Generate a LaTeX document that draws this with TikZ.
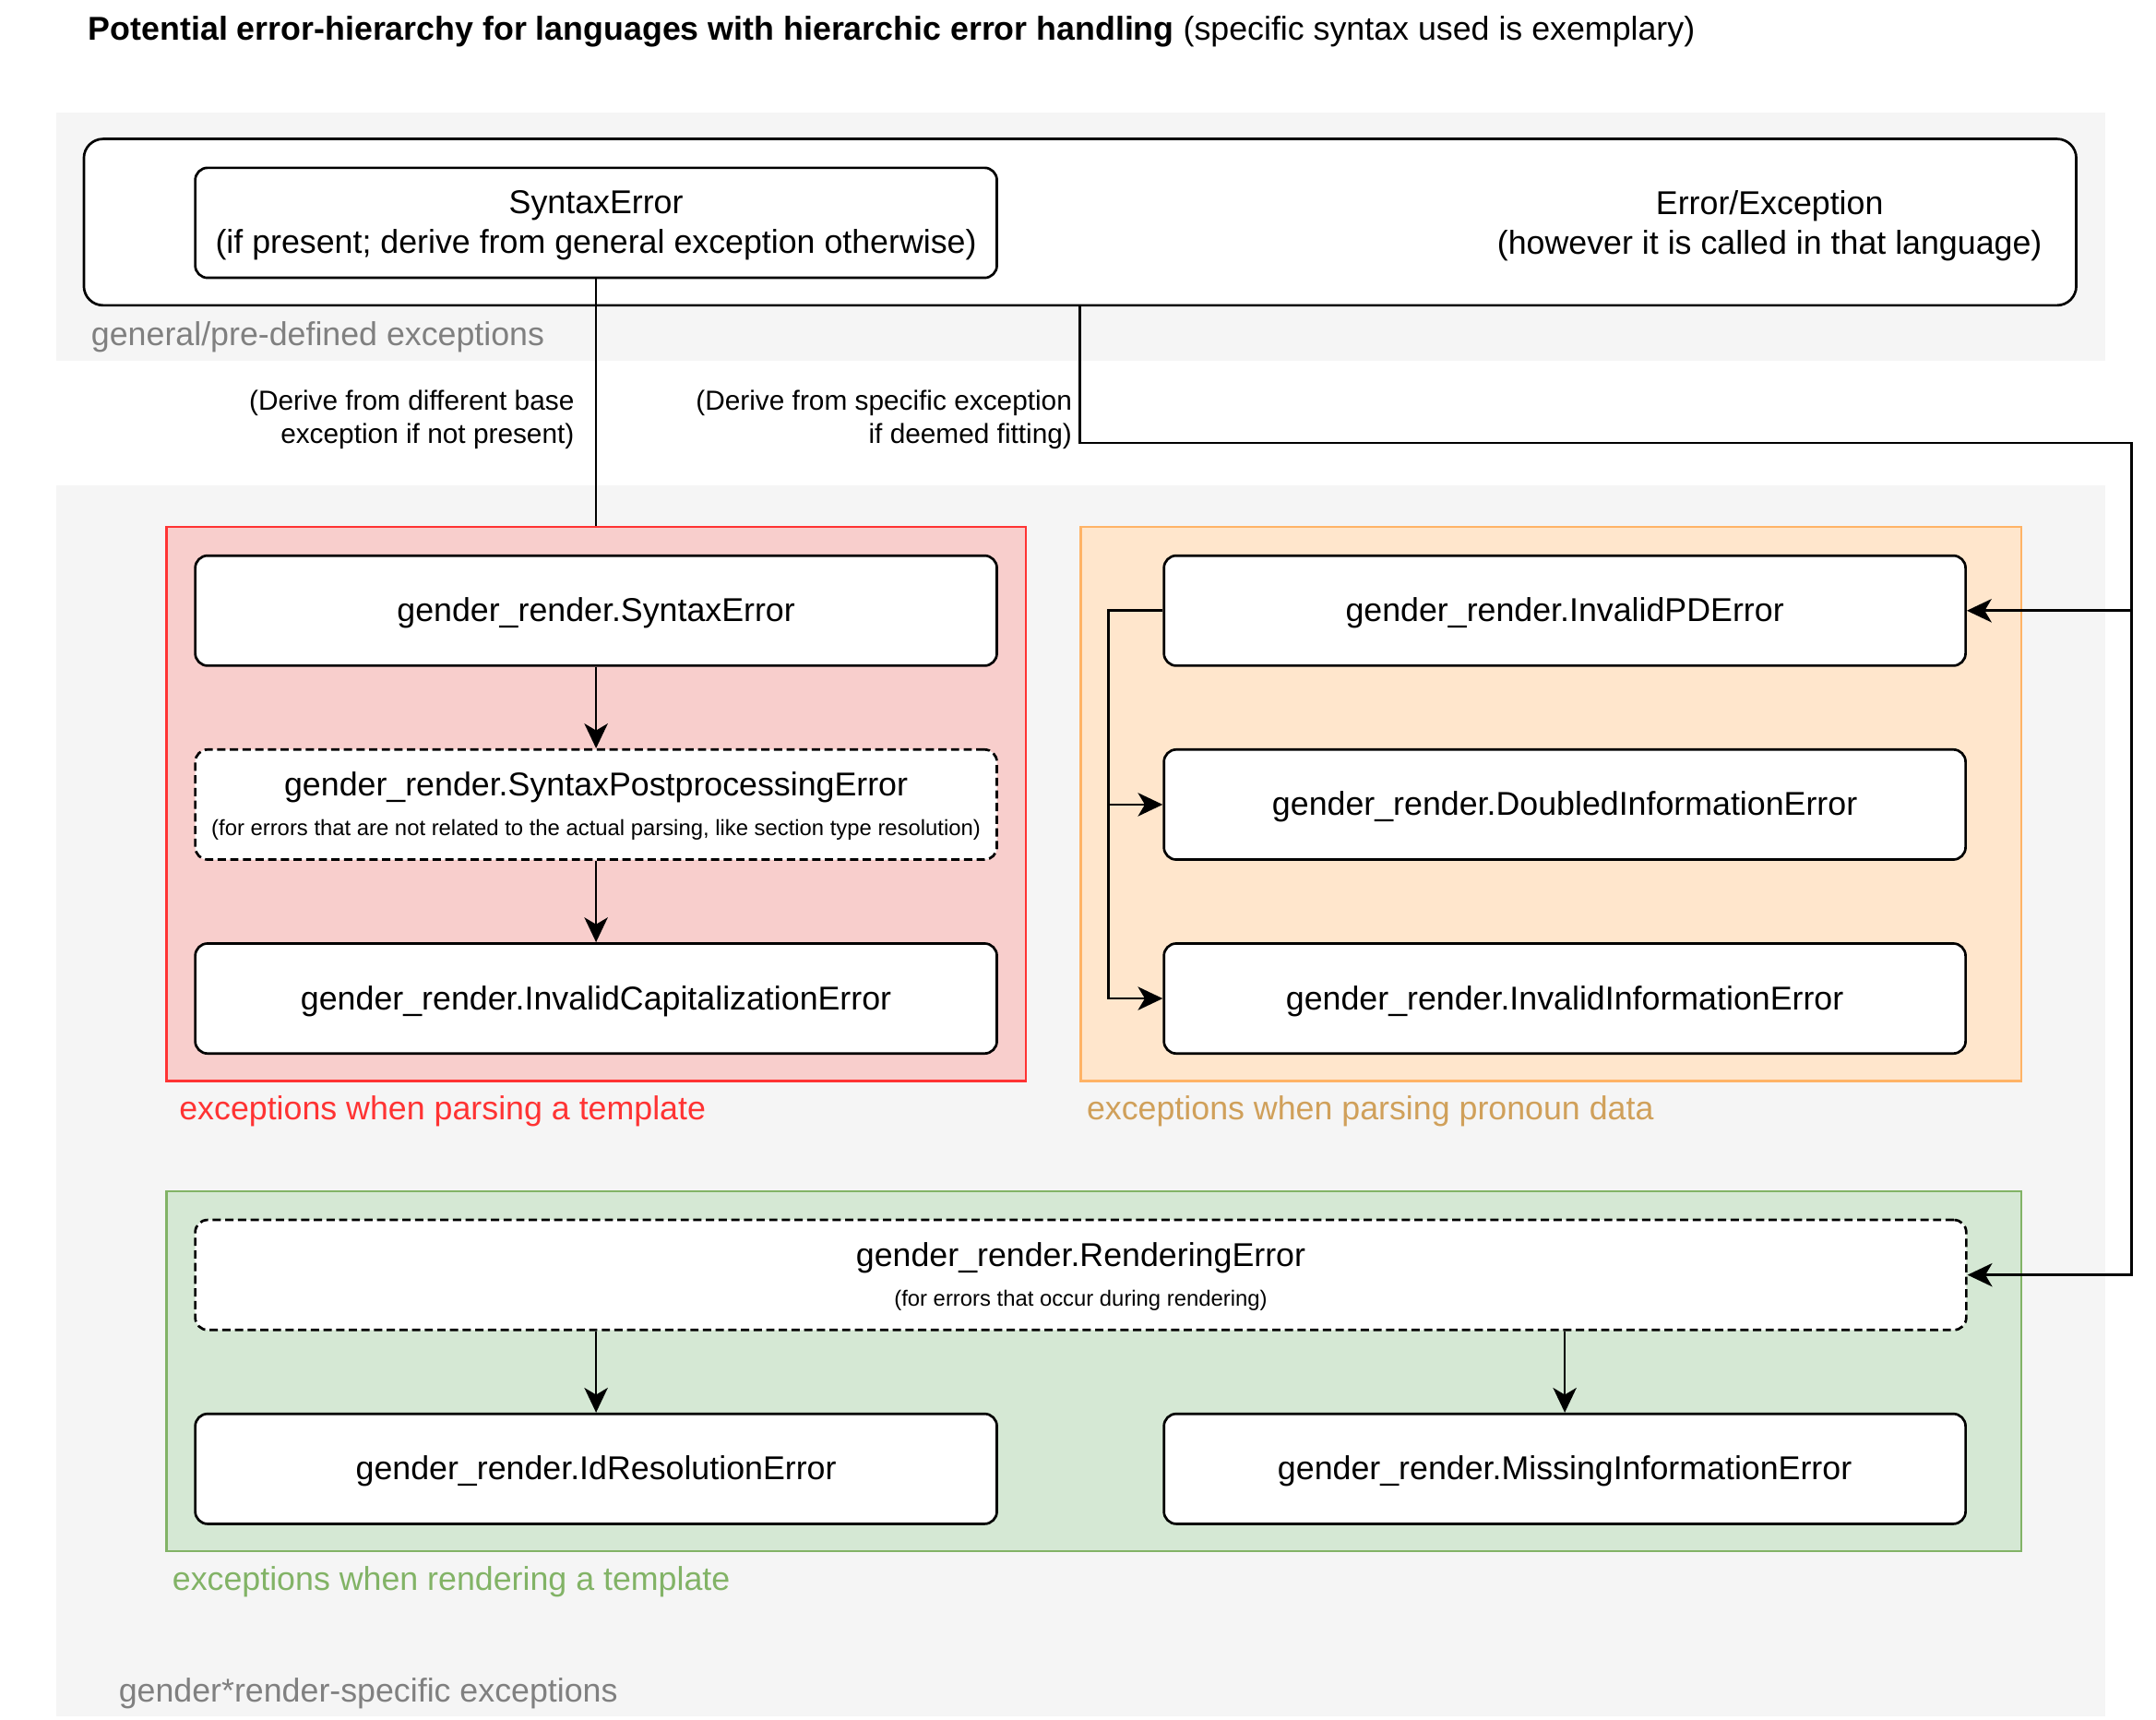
\documentclass[tikz,border=0pt]{standalone}
\usepackage{fontspec}
\setmainfont{Liberation Sans}
\usetikzlibrary{arrows.meta}
\definecolor{bggray}{HTML}{F5F5F5}
\definecolor{redstroke}{HTML}{FF3333}
\definecolor{redfill}{HTML}{F8CECC}
\definecolor{orstroke}{HTML}{FFB366}
\definecolor{orfill}{HTML}{FFE6CC}
\definecolor{orlabel}{HTML}{D0A05A}
\definecolor{grstroke}{HTML}{82B366}
\definecolor{grfill}{HTML}{D5E8D4}
\definecolor{graytext}{HTML}{808080}
\begin{document}
\begin{tikzpicture}[x=0.5pt,y=-0.5pt,
  box/.style={draw=black, line width=0.9pt, rounded corners=4.5pt, fill=white,
    minimum height=40pt, align=center, font=\fontsize{12}{14.4}\selectfont},
  narrowbox/.style={box, minimum width=291.5pt, text height=9pt, text depth=1pt},
  dashbox/.style={dash pattern=on 3pt off 1.6pt},
  grp/.style={line width=0.8pt, inner sep=0pt, minimum height=201.5pt},
  txt/.style={inner sep=0pt, yshift=-1pt, font=\fontsize{12}{14.4}\selectfont},
  basetxt/.style={inner sep=0pt, anchor=base, font=\fontsize{12}{14.4}\selectfont},
  smalltxt/.style={inner sep=0pt, anchor=base, font=\fontsize{8}{9.6}\selectfont},
  notetxt/.style={inner sep=0pt, yshift=-1pt, align=right, anchor=east, font=\fontsize{10}{12}\selectfont},
  grplabel/.style={inner sep=0pt, yshift=-1pt, anchor=west, font=\fontsize{12}{14.4}\selectfont},
  conn/.style={line width=0.9pt},
  arr/.style={conn, -{Stealth[length=9pt,width=8.5pt,inset=2.5pt]}}]
\useasboundingbox (0,0) rectangle (1568,1250);
% background bands
\fill[bggray] (41,82) rectangle (1531,262);
\fill[bggray] (41,353) rectangle (1531,1248);
% title
\node[txt, anchor=west] (title) at (64,21) {\textbf{Potential error-hierarchy for languages with hierarchic error handling} (specific syntax used is exemplary)};
% top general box
\node[box, rounded corners=7pt, minimum width=724.5pt, minimum height=60.5pt] (top) at (785.5,161.5) {};
\node[txt, align=center] (errtxt) at (1287,162) {Error/Exception\\(however it is called in that language)};
\node[box, minimum width=291.5pt] (se0) at (433.5,162) {};
\node[txt, align=center] (se0t) at (433.5,162) {SyntaxError\\(if present; derive from general exception otherwise)};
\node[grplabel, text=graytext] (genlabel) at (66,243) {general/pre-defined exceptions};
% groups
\node[grp, draw=redstroke, fill=redfill, minimum width=312.5pt] (redgrp) at (433.5,584.5) {};
\node[grp, draw=orstroke, fill=orfill, minimum width=342pt] (orgrp) at (1128,584.5) {};
\node[grp, draw=grstroke, fill=grfill, minimum width=674.5pt, minimum height=131pt] (grgrp) at (795.5,997) {};
\node[grplabel, text=redstroke] (redlabel) at (130,806) {exceptions when parsing a template};
\node[grplabel, text=orlabel] (orlabel) at (790,806) {exceptions when parsing pronoun data};
\node[grplabel, text=grstroke] (grlabel) at (125,1148) {exceptions when rendering a template};
\node[grplabel, text=graytext] (speclabel) at (86,1229) {gender*render-specific exceptions};
% red group nodes
\node[narrowbox] (se) at (433.5,444) {gender\_render.SyntaxError};
\node[box, minimum width=291.5pt, dashbox] (spe) at (433.5,585) {};
\node[basetxt] (spet) at (433.5,579) {gender\_render.SyntaxPostprocessingError};
\node[smalltxt] (spes) at (433.5,607.5) {(for errors that are not related to the actual parsing, like section type resolution)};
\node[narrowbox] (ice) at (433.5,726) {gender\_render.InvalidCapitalizationError};
% orange group nodes
\node[narrowbox] (ipd) at (1138,444) {gender\_render.InvalidPDError};
\node[narrowbox] (die) at (1138,585) {gender\_render.DoubledInformationError};
\node[narrowbox] (iie) at (1138,726) {gender\_render.InvalidInformationError};
% green group nodes
\node[box, dashbox, minimum width=644pt] (re) at (786,927) {};
\node[basetxt] (ret) at (786,921) {gender\_render.RenderingError};
\node[smalltxt] (res) at (786,949.5) {(for errors that occur during rendering)};
\node[narrowbox] (idr) at (433.5,1068) {gender\_render.IdResolutionError};
\node[narrowbox] (mie) at (1138,1068) {gender\_render.MissingInformationError};
% notes
\node[notetxt] (note1) at (418,303) {(Derive from different base\\exception if not present)};
\node[notetxt] (note2) at (780,303) {(Derive from specific exception\\if deemed fitting)};
% connectors
\coordinate (c1) at (1550,322);
\coordinate (c2) at (806,444);
\draw[conn] (se0.south) -- (redgrp.north);
\draw[arr] (top.south) |- (c1) |- (re.east);
\draw[arr] (c1) |- (ipd.east);
\draw[arr] (se.south) -- (spe.north);
\draw[arr] (spe.south) -- (ice.north);
\draw[arr] (ipd.west) -- (c2) |- (die.west);
\draw[arr] (c2) |- (iie.west);
\draw[arr] (re.south -| idr.north) -- (idr.north);
\draw[arr] (re.south -| mie.north) -- (mie.north);
\end{tikzpicture}
\end{document}
